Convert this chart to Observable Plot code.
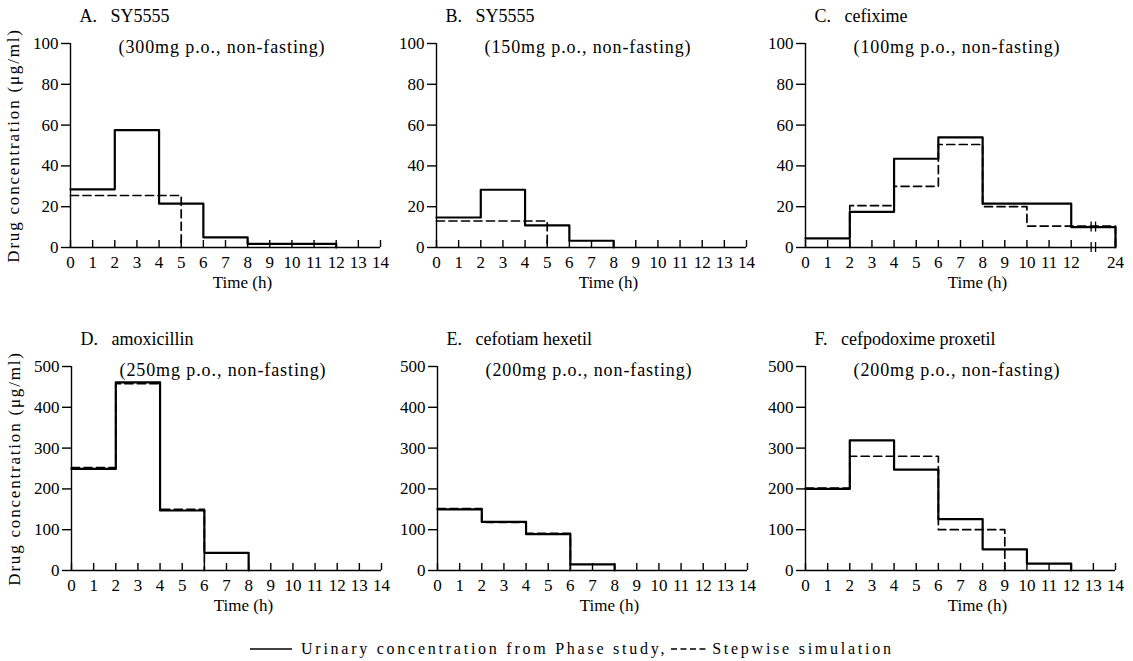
<!DOCTYPE html>
<html>
<head>
<meta charset="utf-8">
<script src="https://cdn.jsdelivr.net/npm/d3@7"></script>
<script src="https://cdn.jsdelivr.net/npm/@observablehq/plot@0.6"></script>
<style>
  body { margin: 0; background: #fff; }
  #wrap { position: relative; width: 1133px; height: 661px; overflow: hidden; background: #fff;
          font-family: "Liberation Serif", serif; color: #000; }
  #wrap svg.panel { position: absolute; font-family: "Liberation Serif", serif !important; }
  #wrap svg.panel text { font-family: "Liberation Serif", serif !important; }
  [aria-label="y-axis label"] text { letter-spacing: 1.8px; }
  .subtitle text { letter-spacing: 0.9px; }
  #legend { position: absolute; left: 250px; top: 640px; font-size: 16px; letter-spacing: 2.75px;
            white-space: nowrap; display: flex; align-items: center; }
</style>
</head>
<body>
<div id="wrap"></div>
<script>
// ---------- data ----------
const panelLetters = ["A", "B", "C", "D", "E", "F"];
const drugNames = ["SY5555", "SY5555", "cefixime", "amoxicillin", "cefotiam hexetil", "cefpodoxime proxetil"];
const doseLabels = [
  "(300mg p.o., non-fasting)", "(150mg p.o., non-fasting)", "(100mg p.o., non-fasting)",
  "(250mg p.o., non-fasting)", "(200mg p.o., non-fasting)", "(200mg p.o., non-fasting)"
];
const yMaxima = [100, 100, 100, 500, 500, 500];
const yTicksLow = [0, 20, 40, 60, 80, 100];
const yTicksHigh = [0, 100, 200, 300, 400, 500];
const xTicksStd = [0, 1, 2, 3, 4, 5, 6, 7, 8, 9, 10, 11, 12, 13, 14];
const xTicksC = [0, 1, 2, 3, 4, 5, 6, 7, 8, 9, 10, 11, 12, 24];
const xDomainStd = [0, 14];
const xDomainC = [0, 12, 24];
const breakTimesC = [17.4, 18.6];

// urinary concentration (solid), step start times and levels; last level 0 = end
const urinaryTimes = [
  [0, 2, 4, 6, 8, 12],
  [0, 2, 4, 6, 8],
  [0, 2, 4, 6, 8, 12, 24],
  [0, 2, 4, 6, 8],
  [0, 2, 4, 6, 8],
  [0, 2, 4, 6, 8, 10, 12]
];
const urinaryConc = [
  [28.5, 57.5, 21.5, 5, 1.8, 0],
  [14.7, 28.3, 10.8, 3.3, 0],
  [4.5, 17.5, 43.5, 54, 21.5, 10, 0],
  [249, 461, 147, 43, 0],
  [150, 119, 89, 15, 0],
  [200, 319, 247, 126, 52, 17, 0]
];
// stepwise simulation (dashed)
const simTimes = [
  [0, 5],
  [0, 5],
  [2, 2, 4, 6, 8, 10, 24],
  [0, 2, 4, 6],
  [0, 2, 4, 6],
  [0, 2, 6, 9]
];
const simConc = [
  [25.5, 0],
  [13, 0],
  [0, 20.5, 30, 50.5, 20, 10.5, 0],
  [252, 458, 150, 0],
  [152, 118, 91, 0],
  [202, 280, 100, 0]
];
const yLabel = "Drug concentration (μg/ml)";
const xLabel = "Time (h)";
const legendLabels = ["Urinary concentration from Phase study,", "Stepwise simulation"];

// ---------- layout ----------
const axisLeft = [70, 436, 805, 71, 437, 805];
const rowTop = [0, 0, 0, 323, 323, 323];
const ML = 70, MT = 43, PW = 310, PH = 204, MR = 22, MB = 52;
const FONT = "Liberation Serif";

const wrap = document.getElementById("wrap");

panelLetters.forEach((letter, i) => {
  const isC = i === 2;
  const yTicks = yMaxima[i] === 100 ? yTicksLow : yTicksHigh;
  const xTicks = isC ? xTicksC : xTicksStd;
  const xDomain = isC ? xDomainC : xDomainStd;
  const xRange = isC ? [ML, ML + PW * 12 / 14, ML + PW] : [ML, ML + PW];
  const ur = urinaryTimes[i].map((t, k) => ({t, c: urinaryConc[i][k]}));
  const sim = simTimes[i].map((t, k) => ({t, c: simConc[i][k]}));
  const unit = yMaxima[i] / PH; // data units per pixel for the break marks

  const marks = [
    Plot.ruleX([xDomain[0]], {stroke: "#000", strokeWidth: 1.4}),
    Plot.ruleY([0], {stroke: "#000", strokeWidth: 1.4}),
    Plot.axisY({
      ticks: yTicks, tickSize: 9, tickPadding: 3, strokeWidth: 1.4,
      label: i % 3 === 0 ? yLabel : null, labelAnchor: "center", labelOffset: 64, labelArrow: "none",
      fontSize: 17, fontFamily: FONT
    }),
    Plot.axisX({
      ticks: xTicks, tickSize: -7, tickPadding: 15, strokeWidth: 1.4,
      label: null, tickFormat: d => String(d), fontSize: 17, fontFamily: FONT
    }),
    Plot.line(sim, {x: "t", y: "c", curve: "step-after", stroke: "#000", strokeWidth: 1.7,
      strokeDasharray: "8,4.5"}),
    Plot.line(ur, {x: "t", y: "c", curve: "step-after", stroke: "#000", strokeWidth: 2.2}),
    Plot.text([`${letter}.\u00a0\u00a0 ${drugNames[i]}`], {
      frameAnchor: "top-left", dx: 9, dy: -22, lineAnchor: "bottom", textAnchor: "start",
      fontSize: 18, fontFamily: FONT
    }),
    Plot.text([doseLabels[i]], {
      frameAnchor: "top-left", dx: 48, dy: 9, lineAnchor: "bottom", textAnchor: "start",
      fontSize: 18, fontFamily: FONT, className: "subtitle"
    }),
    Plot.text([xLabel], {
      frameAnchor: "bottom-left", dx: 172, dy: 40, lineAnchor: "bottom", textAnchor: "middle",
      fontSize: 17, fontFamily: FONT
    })
  ];
  if (isC) {
    marks.push(Plot.ruleX(breakTimesC, {x: d => d, y1: -5 * unit, y2: 5 * unit, stroke: "#000", strokeWidth: 1.3}));
    marks.push(Plot.ruleX(breakTimesC, {x: d => d, y1: 10 - 5 * unit, y2: 10 + 5 * unit, stroke: "#000", strokeWidth: 1.3}));
  }

  const svg = Plot.plot({
    width: ML + PW + MR,
    height: MT + PH + MB,
    marginLeft: ML, marginTop: MT, marginRight: MR, marginBottom: MB,
    x: {type: "linear", domain: xDomain, range: xRange},
    y: {type: "linear", domain: [0, yMaxima[i]]},
    style: {"background": "transparent", "overflow": "visible", "font-family": FONT, "font-size": "17px", "color": "#000"},
    marks
  });
  svg.classList.add("panel");
  svg.style.left = (axisLeft[i] - ML) + "px";
  svg.style.top = rowTop[i] + "px";
  wrap.appendChild(svg);
});

// ---------- legend ----------
const legend = document.createElement("div");
legend.id = "legend";
const ns = "http://www.w3.org/2000/svg";
function sample(dash) {
  const s = document.createElementNS(ns, "svg");
  s.setAttribute("width", "42"); s.setAttribute("height", "10");
  const l = document.createElementNS(ns, "line");
  l.setAttribute("x1", "0"); l.setAttribute("x2", "42");
  l.setAttribute("y1", "5"); l.setAttribute("y2", "5");
  l.setAttribute("stroke", "#000"); l.setAttribute("stroke-width", "1.5");
  if (dash) l.setAttribute("stroke-dasharray", "6,3.5");
  s.appendChild(l);
  return s;
}
const s1 = sample(false);
const t1 = document.createElement("span"); t1.textContent = legendLabels[0]; t1.style.marginLeft = "9px";
const s2 = sample(true); s2.style.marginLeft = "4px"; s2.setAttribute("width", "36");
const t2 = document.createElement("span"); t2.textContent = legendLabels[1]; t2.style.marginLeft = "5px";
legend.append(s1, t1, s2, t2);
wrap.appendChild(legend);
</script>
</body>
</html>
